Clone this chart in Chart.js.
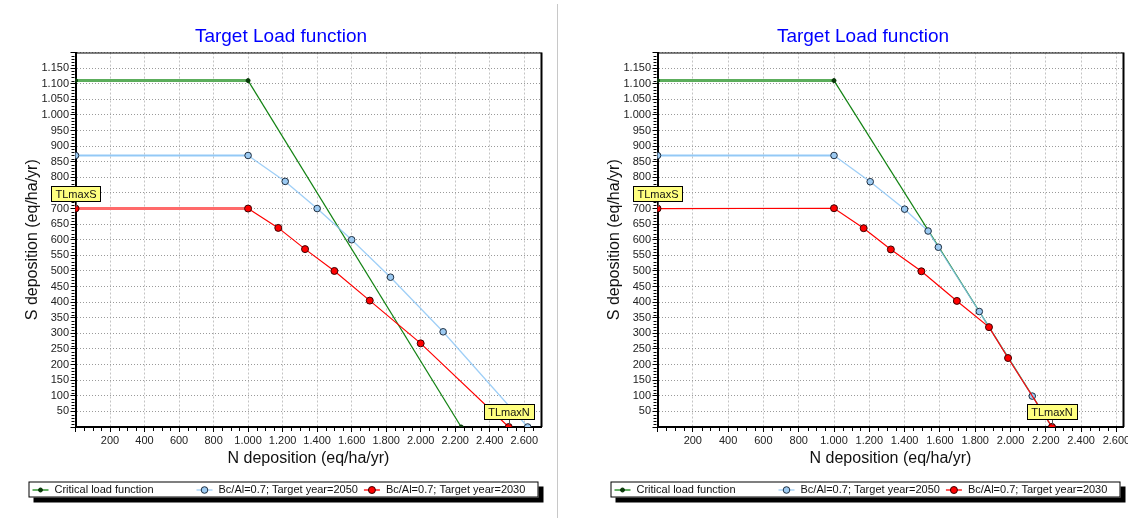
<!DOCTYPE html>
<html>
<head>
<meta charset="utf-8">
<script src="https://cdn.jsdelivr.net/npm/chart.js@4.4.0/dist/chart.umd.min.js"></script>
<style>
    html, body { margin: 0; padding: 0; background: #fff; overflow: hidden; }
    body { width: 1128px; height: 521px; position: relative; }
    .panel { position: absolute; top: 0; width: 546px; height: 521px; }
    #divider { position: absolute; left: 557px; top: 4px; width: 1px; height: 514px; background: #c8c8c8; }
</style>
</head>
<body>
<div class="panel" style="left:0"><canvas id="leftChart" width="546" height="521"></canvas></div>
<div id="divider"></div>
<div class="panel" style="left:582px"><canvas id="rightChart" width="546" height="521"></canvas></div>
<script>
const TITLE = 'Target Load function';
const X_LABEL = 'N deposition (eq/ha/yr)';
const Y_LABEL = 'S deposition (eq/ha/yr)';
const SERIES_NAMES = ['Critical load function', 'Bc/Al=0.7; Target year=2050', 'Bc/Al=0.7; Target year=2030'];

// axis ranges / ticks
const Y_MAX = 1200;
const Y_STEP = 50;
const X_STEP = 200;
const X_MAX_LEFT = 2700;
const X_MAX_RIGHT = 2640;
const xTickValues = [0, 200, 400, 600, 800, 1000, 1200, 1400, 1600, 1800, 2000, 2200, 2400, 2600];

// critical load function (same in both panels)
const critN = [0, 1000, 2235];
const critS = [1110, 1110, 0];

// left panel
const leftN2050 = [0, 1000, 1215, 1400, 1600, 1825, 2130, 2620];
const leftS2050 = [870, 870, 787, 700, 600, 480, 305, 0];
const leftN2030 = [0, 1000, 1175, 1330, 1500, 1705, 2000, 2510];
const leftS2030 = [700, 700, 638, 570, 500, 405, 268, 0];

// right panel
const rightN2050 = [0, 1000, 1205, 1400, 1533, 1591, 1823, 2123, 2235];
const rightS2050 = [870, 870, 786, 698, 628, 576, 370, 99, 0];
const rightN2030 = [0, 1000, 1168, 1322, 1495, 1696, 1878, 1986, 2235];
const rightS2030 = [700, 701, 637, 569, 499, 404, 320, 221, 0];

Chart.defaults.font.family = '"Liberation Sans", Arial, sans-serif';
Chart.defaults.color = '#222';

const FONT = '"Liberation Sans", Arial, sans-serif';

const thousands = v => String(v).replace(/\B(?=(\d{3})+(?!\d))/g, '.');
const toPoints = (xs, ys) => xs.map((x, i) => ({ x: x, y: ys[i] }));
const isFlat = ctx => ctx.p0.parsed.y === ctx.p1.parsed.y;

function lineSeries(label, xs, ys, st) {
    return {
        label: label,
        data: toPoints(xs, ys),
        order: st.order,
        borderColor: st.color,
        borderWidth: st.width,
        pointRadius: st.radius,
        pointHoverRadius: st.radius,
        pointBackgroundColor: st.fill,
        pointBorderColor: st.edge,
        pointBorderWidth: 1,
        tension: 0,
        segment: {
            borderWidth: ctx => isFlat(ctx) ? st.flatWidth : st.width,
            borderColor: ctx => isFlat(ctx) ? st.flatColor : st.color
        }
    };
}

const greenStyle = { order: 3, color: '#128212', width: 1.2, flatColor: '#5cad5c', flatWidth: 3, radius: 2, fill: '#0a3a0a', edge: '#0a3a0a' };
const blueStyle = { order: 2, color: 'rgba(135,195,245,0.8)', width: 1.3, flatColor: 'rgba(135,195,245,0.9)', flatWidth: 2, radius: 3.3, fill: '#9ccaf2', edge: '#1e2e40' };

// small boxes, minor ticks, frame and the boxed legend
const decorPlugin = {
    id: 'decor',
    beforeDatasetsDraw(chart) {
        const { ctx, chartArea: a, scales: { x, y } } = chart;
        ctx.save();
        ctx.strokeStyle = '#000';
        ctx.lineWidth = 1;
        ctx.beginPath();
        ctx.moveTo(a.left, a.top + 0.5);
        ctx.lineTo(a.right, a.top + 0.5);
        ctx.stroke();
        ctx.lineWidth = 2;
        ctx.beginPath();
        ctx.moveTo(a.right, a.top);
        ctx.lineTo(a.right, a.bottom);
        ctx.stroke();
        // minor ticks
        ctx.lineWidth = 1;
        ctx.beginPath();
        for (let v = 50; v < x.max; v += 50) {
            if (v % X_STEP === 0) continue;
            const px = Math.round(x.getPixelForValue(v)) + 0.5;
            ctx.moveTo(px, a.bottom + 1);
            ctx.lineTo(px, a.bottom + 4);
        }
        for (let v = 10; v < Y_MAX; v += 10) {
            if (v % Y_STEP === 0) continue;
            const py = Math.round(y.getPixelForValue(v)) + 0.5;
            ctx.moveTo(a.left - 4, py);
            ctx.lineTo(a.left - 1, py);
        }
        ctx.stroke();
        ctx.restore();
    },
    afterDraw(chart, args, opts) {
        const { ctx, scales: { x, y } } = chart;
        ctx.save();
        ctx.font = '11px ' + FONT;
        ctx.textBaseline = 'middle';
        ctx.textAlign = 'center';
        (opts.tags || []).forEach(t => {
            const px = Math.round(x.getPixelForValue(t.x));
            const py = Math.round(y.getPixelForValue(t.y));
            const w = Math.round(ctx.measureText(t.text).width) + 8;
            const h = 15;
            const bx = px - Math.round(w / 2) + 0.5;
            const by = py - 8 - h + 0.5;
            ctx.strokeStyle = '#555';
            ctx.lineWidth = 1;
            ctx.beginPath();
            ctx.moveTo(px + 0.5, by + h);
            ctx.lineTo(px + 0.5, py - 2);
            ctx.stroke();
            ctx.fillStyle = '#ffff80';
            ctx.fillRect(bx, by, w, h);
            ctx.strokeStyle = '#000';
            ctx.strokeRect(bx, by, w, h);
            ctx.fillStyle = '#111';
            ctx.fillText(t.text, px, by + h / 2 + 0.5);
        });

        // legend box
        const L = opts.legend;
        ctx.fillStyle = '#000';
        ctx.fillRect(L.x + 5, L.y + 5, L.w, L.h);
        ctx.fillStyle = '#fff';
        ctx.fillRect(L.x, L.y, L.w, L.h);
        ctx.strokeStyle = '#000';
        ctx.lineWidth = 1;
        ctx.strokeRect(L.x + 0.5, L.y + 0.5, L.w - 1, L.h - 1);
        ctx.textAlign = 'left';
        const cy = L.y + L.h / 2 + 0.5;
        const sets = chart.data.datasets;
        let ix = L.x + 4;
        sets.forEach((ds, i) => {
            if (i === 1) ix = L.x + L.col2;
            ctx.strokeStyle = ds.borderColor;
            ctx.lineWidth = 1.3;
            ctx.beginPath();
            ctx.moveTo(ix, cy);
            ctx.lineTo(ix + 16, cy);
            ctx.stroke();
            ctx.beginPath();
            ctx.arc(ix + 8, cy, ds.pointRadius, 0, Math.PI * 2);
            ctx.fillStyle = ds.pointBackgroundColor;
            ctx.fill();
            ctx.strokeStyle = ds.pointBorderColor;
            ctx.lineWidth = 1;
            ctx.stroke();
            ctx.fillStyle = '#111';
            ctx.fillText(ds.label, ix + 22, cy);
            ix += 22 + ctx.measureText(ds.label).width + 6;
        });
        ctx.restore();
    }
};

function makeChart(canvasId, xMax, n2050, s2050, n2030, s2030, red) {
    const redStyle = { order: 1, color: '#ff0000', width: 1.2, flatColor: red.flatColor, flatWidth: red.flatWidth, radius: 3.5, fill: '#ff0000', edge: '#3a0000' };
    const last = n2030.length - 1;
    return new Chart(document.getElementById(canvasId), {
        type: 'line',
        data: {
            datasets: [
                lineSeries(SERIES_NAMES[0], critN, critS, greenStyle),
                lineSeries(SERIES_NAMES[1], n2050, s2050, blueStyle),
                lineSeries(SERIES_NAMES[2], n2030, s2030, redStyle)
            ]
        },
        options: {
            responsive: false,
            animation: false,
            events: [],
            layout: { padding: { left: 20, right: 4, top: 0, bottom: 52 } },
            plugins: {
                legend: { display: false },
                tooltip: { enabled: false },
                title: {
                    display: true,
                    text: TITLE,
                    color: '#0000ff',
                    font: { size: 19, weight: 'normal' },
                    padding: { top: 25, bottom: 4.7 }
                },
                decor: {
                    tags: [
                        { text: 'TLmaxS', x: n2030[0], y: s2030[0] },
                        { text: 'TLmaxN', x: n2030[last], y: s2030[last] }
                    ],
                    legend: { x: 28.5, y: 481.5, w: 510, h: 16, col2: 168 }
                }
            },
            scales: {
                x: {
                    type: 'linear',
                    min: 0,
                    max: xMax,
                    afterBuildTicks: s => { s.ticks = xTickValues.map(v => ({ value: v })); },
                    afterFit: s => { s.height = 42; s.paddingLeft = 0; s.paddingRight = 0; },
                    ticks: {
                        autoSkip: false,
                        maxRotation: 0,
                        padding: 2.5,
                        color: '#222',
                        font: { size: 11 },
                        callback: v => v === 0 ? '' : thousands(v)
                    },
                    grid: { color: '#c4c4c4', lineWidth: 1, tickLength: 5, tickColor: '#000', tickBorderDash: [] },
                    border: { display: true, color: '#000', width: 2, dash: [2, 2] },
                    title: { display: true, text: X_LABEL, color: '#111', font: { size: 16 }, padding: { top: 0, bottom: 1 } }
                },
                y: {
                    type: 'linear',
                    min: 0,
                    max: Y_MAX,
                    afterFit: s => { s.width = 55.5; s.paddingTop = 0; s.paddingBottom = 0; },
                    ticks: {
                        stepSize: Y_STEP,
                        includeBounds: false,
                        autoSkip: false,
                        padding: 1.5,
                        color: '#222',
                        font: { size: 11 },
                        callback: v => (v === 0 || v === Y_MAX) ? '' : thousands(v)
                    },
                    grid: { color: '#9a9a9a', lineWidth: 1, tickLength: 5, tickColor: '#000', tickBorderDash: [] },
                    border: { display: true, color: '#000', width: 2, dash: [1, 2] },
                    title: { display: true, text: Y_LABEL, color: '#111', font: { size: 16 }, padding: { top: 3, bottom: 0 } }
                }
            }
        },
        plugins: [decorPlugin]
    });
}

makeChart('leftChart', X_MAX_LEFT, leftN2050, leftS2050, leftN2030, leftS2030, { flatColor: '#ff6a6a', flatWidth: 3 });
makeChart('rightChart', X_MAX_RIGHT, rightN2050, rightS2050, rightN2030, rightS2030, { flatColor: '#ff0000', flatWidth: 1.4 });
</script>
</body>
</html>
